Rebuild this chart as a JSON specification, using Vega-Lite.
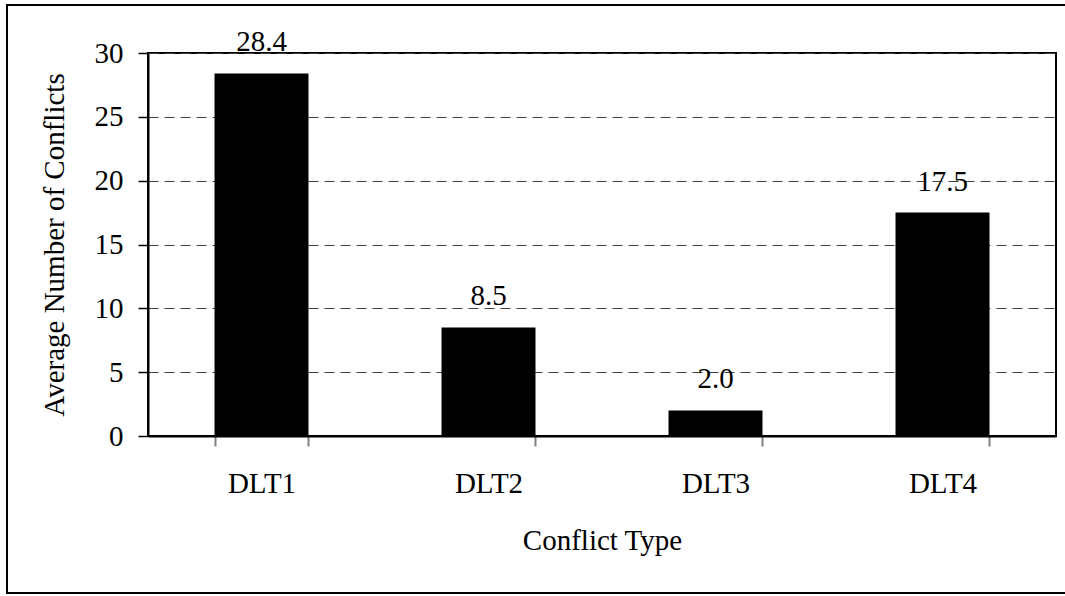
{
  "$schema": "https://vega.github.io/schema/vega-lite/v6.json",
  "width": 908,
  "height": 383,
  "autosize": {"type": "none"},
  "padding": {"left": 148, "top": 53, "right": 9, "bottom": 160},
  "background": "white",
  "config": {
    "font": "Liberation Serif",
    "view": {"stroke": "black", "strokeWidth": 2},
    "axis": {
      "labelFont": "Liberation Serif",
      "titleFont": "Liberation Serif",
      "labelFontSize": 29,
      "titleFontSize": 29,
      "labelColor": "black",
      "titleColor": "black",
      "titleFontWeight": "normal",
      "domainColor": "black",
      "domainWidth": 2
    }
  },
  "data": {
    "values": [
      {"type": "DLT1", "avg": 28.4},
      {"type": "DLT2", "avg": 8.5},
      {"type": "DLT3", "avg": 2.0},
      {"type": "DLT4", "avg": 17.5}
    ]
  },
  "layer": [
    {
      "mark": {"type": "bar", "color": "black"},
      "encoding": {
        "x": {
          "field": "type",
          "type": "nominal",
          "sort": null,
          "scale": {"paddingInner": 0.586, "paddingOuter": 0.293},
          "axis": {
            "title": "Conflict Type",
            "labelAngle": 0,
            "labelPadding": 23,
            "tickColor": "#808080",
            "tickWidth": 2,
            "tickSize": 10,
            "tickBand": "extent",
            "titlePadding": 28
          }
        },
        "y": {
          "field": "avg",
          "type": "quantitative",
          "scale": {"domain": [0, 30], "nice": false},
          "axis": {
            "title": "Average Number of Conflicts",
            "values": [0, 5, 10, 15, 20, 25, 30],
            "tickColor": "black",
            "tickWidth": 1.5,
            "tickSize": 10,
            "labelPadding": 15,
            "titlePadding": 25,
            "grid": true,
            "gridColor": "#404040",
            "gridDash": [10, 6],
            "gridWidth": 1
          }
        }
      }
    },
    {
      "mark": {
        "type": "text",
        "baseline": "alphabetic",
        "dy": -22,
        "fontSize": 29,
        "font": "Liberation Serif",
        "color": "black"
      },
      "encoding": {
        "x": {"field": "type", "type": "nominal", "sort": null},
        "y": {"field": "avg", "type": "quantitative"},
        "text": {"field": "avg", "type": "quantitative", "format": ".1f"}
      }
    },
    {
      "mark": {
        "type": "rect",
        "fill": null,
        "stroke": "black",
        "strokeWidth": 2,
        "clip": false
      },
      "encoding": {
        "x": {"value": -141},
        "x2": {"value": 930},
        "y": {"value": -48},
        "y2": {"value": 540}
      }
    }
  ]
}
